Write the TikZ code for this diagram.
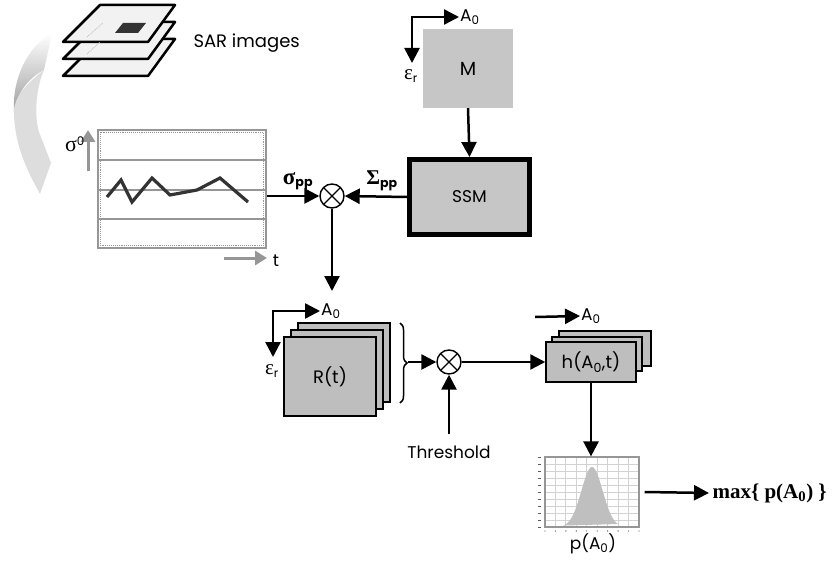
\documentclass[tikz,border=0pt]{standalone}
\usepackage{fontspec}
\setmainfont{Poppins}
\newfontfamily\serifface{Liberation Serif}
\usetikzlibrary{arrows.meta,decorations.pathreplacing}

\definecolor{boxgray}{RGB}{198,198,198}
\definecolor{stackgray}{RGB}{190,190,190}
\definecolor{linegray}{RGB}{150,150,150}
\definecolor{tracegray}{RGB}{51,51,51}

\newcommand{\greek}[2][22]{{\serifface\fontsize{#1}{#1}\selectfont #2}}

\tikzset{
  >={Triangle[length=15pt,width=15pt]},
  conn/.style={line width=2.5pt,->},
  corner/.style={line width=2.5pt,<->},
  grayarrow/.style={linegray,line width=3pt,-{Triangle[length=12pt,width=14pt]}},
  mult/.style={circle,draw,line width=1.4pt,minimum size=24pt,inner sep=0pt,fill=white,
    path picture={\draw[line width=1.2pt]
      (path picture bounding box.north west) -- (path picture bounding box.south east)
      (path picture bounding box.north east) -- (path picture bounding box.south west);}},
  flatbox/.style={fill=boxgray,minimum width=90pt,minimum height=79pt},
  stackbox/.style={draw,line width=1.5pt,fill=stackgray,minimum width=92pt,minimum height=79pt},
  hbox/.style={draw,line width=1.5pt,fill=stackgray,minimum width=90pt,minimum height=40pt},
  layer/.style={draw,line width=2.5pt,line join=round,fill=gray!10},
  lbl/.style={font=\fontsize{17}{20}\selectfont,inner sep=1pt},
  eps/.style={font=\fontsize{17}{20}\selectfont,inner sep=1pt},
}

\begin{document}
\begin{tikzpicture}[x=1pt,y=-1pt,font=\fontsize{17}{20}\selectfont]
  \useasboundingbox (0,0) rectangle (837,561);

  % stack of SAR images
  \foreach \dy in {34,17,0}
    \draw[layer] (63,42+\dy) -- (148,42+\dy) -- (175,5+\dy) -- (100,5+\dy) -- cycle;
  \draw[gray!55,densely dotted,line width=0.8pt] (87,37) -- (103,23) (87,54) -- (100,42);
  \fill[tracegray] (115,33) -- (138,33) -- (146,23) -- (123,23) -- cycle;
  \node[anchor=west,font=\fontsize{18}{21}\selectfont] (sar) at (190,43) {SAR images};

  % curved arrow down to the time series
  \shade[top color=white,bottom color=gray!75]
    (52,33) .. controls (28,46) and (12,78) .. (14,112)
    .. controls (16,95) and (28,78) .. (44,70) -- cycle;
  \fill[gray!27] (44,70) .. controls (26,84) and (13,98) .. (14,114)
    .. controls (15,147) and (28,172) .. (40,194) -- (51,163) -- (39,132)
    .. controls (34,115) and (36,88) .. (44,70) -- cycle;

  % backscatter time series
  \node[draw=linegray,line width=1.3pt,minimum width=168pt,minimum height=118pt,inner sep=0pt] (ts) at (182,189) {};
  \draw[linegray,densely dotted,line width=0.9pt] (100.5,132.5) rectangle (263.5,245.5);
  \foreach \ly in {160,190,219}
    \draw[linegray,line width=1.2pt] (98,\ly) -- (266,\ly);
  \draw[tracegray,line width=3.2pt] (107,197) -- (121,180) -- (132,202) -- (152,178) -- (170,195)
    -- (197,190) -- (220,178) -- (248,202);
  \draw[grayarrow] (88,171) -- (88,130);
  \node[inner sep=0pt] (s0) at (75,144) {\greek{σ}\textsuperscript{0}};
  \draw[grayarrow] (224,258) -- (267,258);
  \node (t) at (276,261) {t};

  % model and SSM
  \node[flatbox,font=\fontsize{19}{22}\selectfont] (M) at (468,68.5) {M};
  \node[draw,line width=5pt,fill=boxgray,minimum width=120pt,minimum height=75pt] (SSM) at (469.5,197) {SSM};
  \node[lbl,anchor=west] (MA) at (459,17) {A\textsubscript{0}};
  \node[eps] (Me) at (411,76) {\greek[21]{ε}\textsubscript{r}};
  \coordinate (Mc) at (412,63);
  \draw[corner] (Mc) |- (MA.west);

  \node[mult] (m1) at (332,196) {};
  \node[font=\bfseries\fontsize{18}{20}\selectfont] (spp) at (298,181) {\greek[23]{σ}\textsubscript{pp}};
  \node[font=\bfseries\fontsize{18}{20}\selectfont] (Spp) at (382,181) {\greek[21]{Σ}\textsubscript{pp}};

  \draw[conn] (ts.east |- m1) -- (m1.west);
  \draw[conn] (SSM.west) -- (m1.east);
  \draw[conn] (M.south) -- (SSM.north);

  % stack of R(t)
  \coordinate (rin) at (332,291);
  \draw[conn] (m1.south) -- (rin);
  \node[stackbox] (R3) at (344,362.5) {};
  \node[stackbox] (R2) at (337,369.5) {};
  \node[stackbox,font=\fontsize{18}{21}\selectfont] (R1) at (330,376.5) {R(t)};
  \node[lbl,anchor=west] (RA) at (320,311) {A\textsubscript{0}};
  \node[eps] (Re) at (272,371) {\greek[21]{ε}\textsubscript{r}};
  \coordinate (Rc) at (273,357);
  \draw[corner] (Rc) |- (RA.west);

  \draw[line width=1.5pt,decorate,decoration={brace,amplitude=7pt}] (400,323) -- (400,403);
  \coordinate (brace) at (408,362);

  \node[mult] (m2) at (449,362) {};
  \node (thr) at (449,452) {Threshold};
  \draw[conn] (brace) -- (m2.west);
  \draw[conn] ([yshift=8pt]thr.north) -- (m2.south);

  % stack of h(A0,t)
  \node[hbox,minimum width=92pt,minimum height=35pt] (h3) at (605,348.5) {};
  \node[hbox,minimum height=34pt] (h2) at (597,354) {};
  \node[hbox,font=\fontsize{18}{21}\selectfont] (h1) at (591,362) {h(A\textsubscript{0},t)};
  \coordinate (hc) at (535,317);
  \node[lbl,anchor=west] (hA) at (580,316) {A\textsubscript{0}};
  \draw[conn] (hc) -- (hA.west);
  \draw[conn] (m2.east) -- (h1.west);

  % posterior p(A0)
  \foreach \i in {1,...,8}
    \draw[gray!35,line width=0.8pt] ({545+\i*10.44},457) -- ++(0,70);
  \foreach \j in {1,...,9}
    \draw[gray!35,line width=0.8pt] (545,{457+\j*7}) -- ++(94,0);
  \fill[gray!50] plot[domain=563:618,samples=60] (\x,{527-60*exp(-((\x-592)/15)^2)}) -- cycle;
  \draw[gray!70!black,line width=1pt] (563,526.5) -- (618,526.5);
  \foreach \j in {0,...,10}
    \draw[gray!70!black,line width=0.8pt] (538,{457+\j*7}) -- ++(3,0);
  \foreach \i in {0,...,9}
    \fill[gray!70!black] ({545+\i*10.44},531) circle (0.7pt);
  \node[draw=linegray,line width=1.2pt,minimum width=94pt,minimum height=70pt,inner sep=0pt] (pd) at (592,492) {};
  \node (pA) at (593,544) {p(A\textsubscript{0})};
  \draw[conn] (h1.south) -- (h1.south |- pd.north);

  \node[anchor=west,font=\serifface\bfseries\fontsize{21}{24}\selectfont] (mx) at (709,493) {max\{ p(A\textsubscript{0}) \}};
  \draw[conn] ([xshift=5pt]pd.east) -- (mx.west);
\end{tikzpicture}
\end{document}
